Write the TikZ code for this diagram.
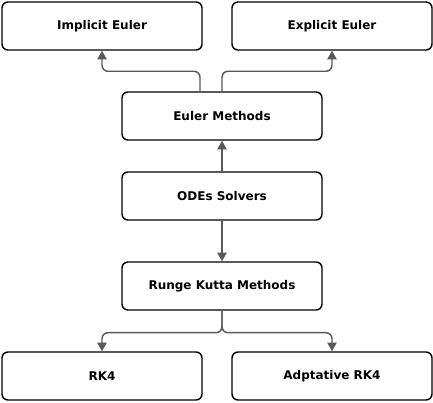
\documentclass[tikz,border=0pt]{standalone}
\usepackage{fontspec}
\setmainfont{DejaVu Sans}
\usepackage{tikz}
\usetikzlibrary{arrows.meta}

\definecolor{linkgray}{RGB}{89,89,89}

\tikzset{
  method/.style={draw, line width=1.1pt, rounded corners=4.5pt, fill=white,
    minimum width=150pt, minimum height=36pt, inner sep=0pt,
    font=\fontsize{9}{11}\selectfont\bfseries},
  link/.style={draw=linkgray, line width=1.1pt, rounded corners=4.5pt,
    arrows = {-Triangle[width=7pt, length=6.5pt]}}
}

\begin{document}
\begin{tikzpicture}[x=0.75pt, y=-0.75pt]
\useasboundingbox (0, 0) rectangle (433, 403);
\node[method] (implicit_euler) at (102, 26) {Implicit Euler};
\node[method] (explicit_euler) at (332, 26) {Explicit Euler};
\node[method] (euler_methods) at (222, 116) {Euler Methods};
\node[method] (odes_solvers) at (222, 196) {ODEs Solvers};
\node[method] (runge_kutta) at (222, 286) {Runge Kutta Methods};
\node[method] (rk4) at (102, 376) {RK4};
\node[method] (adaptive_rk4) at (332, 376) {Adptative RK4};
\draw[link] ([xshift=-16.5pt]euler_methods.north) -- ++(0, -20) -| (implicit_euler.south);
\draw[link] (euler_methods.north) -- ++(0, -20) -| (explicit_euler.south);
\draw[link] (odes_solvers.north) -- (euler_methods.south);
\draw[link] (odes_solvers.south) -- (runge_kutta.north);
\draw[link] (runge_kutta.south) -- ++(0, 22) -| (rk4.north);
\draw[link] (runge_kutta.south) -- ++(0, 22) -| (adaptive_rk4.north);
\end{tikzpicture}
\end{document}
